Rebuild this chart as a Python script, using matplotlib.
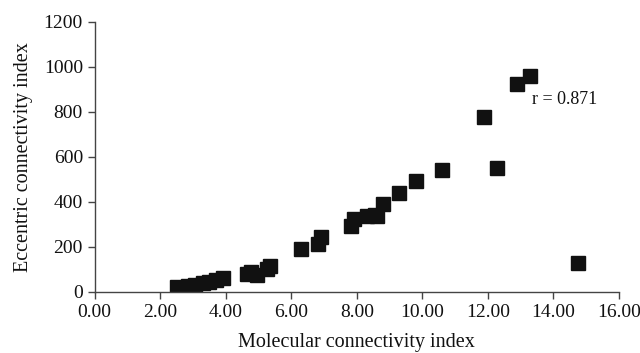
import matplotlib
matplotlib.use("Agg")
import matplotlib.pyplot as plt
from matplotlib.ticker import MultipleLocator, FormatStrFormatter

plt.rcParams['font.family'] = ['Liberation Serif', 'DejaVu Serif']

mol_ci = [2.50, 2.85, 3.05, 3.30, 3.50, 3.70, 3.92,
          4.65, 4.78, 4.96, 5.25, 5.35,
          6.31, 6.82, 6.92, 7.81, 7.91, 8.30, 8.55, 8.62, 8.80,
          9.29, 9.80, 10.60, 11.88, 12.28, 12.88, 13.28, 14.76]
ecc_ci = [22, 28, 33, 40, 45, 52, 62,
          80, 88, 76, 100, 117,
          190, 212, 243, 293, 324, 339, 340, 339, 390,
          439, 493, 542, 779, 552, 924, 960, 128]
r_label = "r = 0.871"

fig = plt.figure(figsize=(6.4, 3.53), dpi=100)
ax = fig.add_axes([0.148, 0.173, 0.819, 0.765])
ax.plot(mol_ci, ecc_ci, linestyle='none', marker='s', markersize=10,
        color='#111111')
ax.set_xlim(0, 16)
ax.set_ylim(0, 1200)
ax.xaxis.set_major_locator(MultipleLocator(2))
ax.yaxis.set_major_locator(MultipleLocator(200))
ax.xaxis.set_major_formatter(FormatStrFormatter('%.2f'))
for s in ['top', 'right']:
    ax.spines[s].set_visible(False)
for s in ['left', 'bottom']:
    ax.spines[s].set_color('#444444')
    ax.spines[s].set_linewidth(1.0)
ax.tick_params(direction='out', length=5, width=1, colors='#444444',
               labelcolor='#111111', labelsize=14)
ax.set_xlabel('Molecular connectivity index', fontsize=14.5, labelpad=9,
              color='#111111')
ax.set_ylabel('Eccentric connectivity index', fontsize=14.5, labelpad=8,
              color='#111111')
ax.text(13.35, 853, r_label, fontsize=13, va='center', ha='left',
        color='#111111')
fig.savefig('out.png', dpi=100)
